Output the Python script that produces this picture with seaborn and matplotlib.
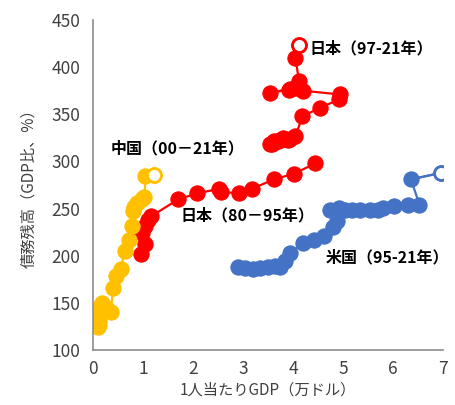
import numpy as np
import pandas as pd
import matplotlib
matplotlib.use("Agg")
import matplotlib.pyplot as plt
import seaborn as sns

# 日本 1980-95
jp1_x = [0.95, 1.05, 0.97, 1.05, 1.10, 1.17, 1.71, 2.08, 2.52, 2.56, 2.92, 3.18, 3.62, 4.02, 4.45]
jp1_y = [202, 212, 224, 232, 238, 242, 260, 266, 271, 268, 266, 271, 281, 287, 298]

# 日本 1997-2021
jp2_x = [3.55, 3.60, 3.65, 3.75, 3.62, 3.58, 3.70, 3.85, 3.80, 3.90, 3.95, 4.05,
         4.19, 4.55, 4.93, 4.95, 4.20, 3.92, 3.55, 3.95, 4.05, 4.10, 4.12, 4.05, 4.12]
jp2_y = [318, 320, 321, 323, 322, 319, 322, 324, 325, 323, 324, 327,
         348, 357, 366, 371, 375, 376, 373, 377, 378, 380, 385, 410, 423]

# 中国 2000-21
cn_x = [0.10, 0.11, 0.12, 0.13, 0.15, 0.18, 0.21, 0.27, 0.36, 0.40, 0.46,
        0.56, 0.63, 0.72, 0.77, 0.80, 0.82, 0.88, 0.98, 1.03, 1.05, 1.22]
cn_y = [124, 127, 131, 140, 148, 150, 147, 143, 140, 166, 178,
        186, 205, 217, 231, 247, 252, 256, 260, 262, 285, 286]

# 米国 1995-2021
us_x = [2.90, 3.05, 3.20, 3.35, 3.50, 3.65, 3.75, 3.85, 3.95, 4.20, 4.43, 4.63, 4.81, 4.88,
        4.75, 4.92, 5.05, 5.18, 5.35, 5.55, 5.70, 5.80, 6.03, 6.30, 6.53, 6.36, 6.97]
us_y = [188, 187, 186, 187, 188, 189, 188, 194, 203, 214, 217, 221, 230, 237,
        249, 251, 249, 249, 249, 249, 248, 251, 253, 254, 254, 281, 288]

red = "#FF0000"
yellow = "#FFC000"
blue = "#4472C4"

sns.set_style("white")
plt.rcParams['font.family'] = ['Noto Sans CJK JP', 'DejaVu Sans']

fig = plt.figure(figsize=(4.55, 4.05), dpi=100)
ax = fig.add_axes([0.2044, 0.1358, 0.7692, 0.8148])

series = [(jp1_x, jp1_y, red, False), (jp2_x, jp2_y, red, True),
          (cn_x, cn_y, yellow, True), (us_x, us_y, blue, True)]

for xs, ys, col, hollow_end in series:
    df = pd.DataFrame({"x": xs, "y": ys})
    sns.lineplot(data=df, x="x", y="y", sort=False, estimator=None, color=col,
                 linewidth=1.6, marker="o", markersize=11, markeredgecolor=col,
                 markerfacecolor=col, ax=ax)
    if hollow_end:
        last = df.iloc[[-1]]
        ax.plot([xs[-2], xs[-1]], [ys[-2], ys[-1]], color=col, lw=1.6, zorder=3)
        ax.plot(last["x"], last["y"], "o", markersize=10, markerfacecolor="white",
                markeredgecolor=col, markeredgewidth=2, zorder=4)

tkw = dict(fontsize=11.5, fontweight="bold", color="black")
ax.text(4.33, 420, "日本（97-21年）", ha="left", va="center", **tkw)
ax.text(0.35, 314, "中国（00－21年）", ha="left", va="center", **tkw)
ax.text(1.76, 243, "日本（80－95年）", ha="left", va="center", **tkw)
ax.text(4.66, 198, "米国（95-21年）", ha="left", va="center", **tkw)

ax.set_xlim(0, 7)
ax.set_ylim(100, 450)
ax.set_xticks(range(0, 8))
ax.set_yticks(range(100, 451, 50))
ax.set_xlabel("1人当たりGDP（万ドル）", fontsize=11, color="#404040", labelpad=3)
ax.set_ylabel("債務残高（GDP比、%）", fontsize=11, color="#404040", labelpad=10)

for s in ["top", "right"]:
    ax.spines[s].set_visible(False)
for s in ["left", "bottom"]:
    ax.spines[s].set_color("#8C8C8C")
    ax.spines[s].set_linewidth(1.2)
ax.tick_params(axis="y", direction="out", length=4, color="#8C8C8C", labelsize=12.5, labelcolor="#404040", pad=5)
ax.tick_params(axis="x", direction="inout", length=6, color="#8C8C8C", labelsize=12.5, labelcolor="#404040", pad=4)

fig.savefig("out.png", dpi=100)
